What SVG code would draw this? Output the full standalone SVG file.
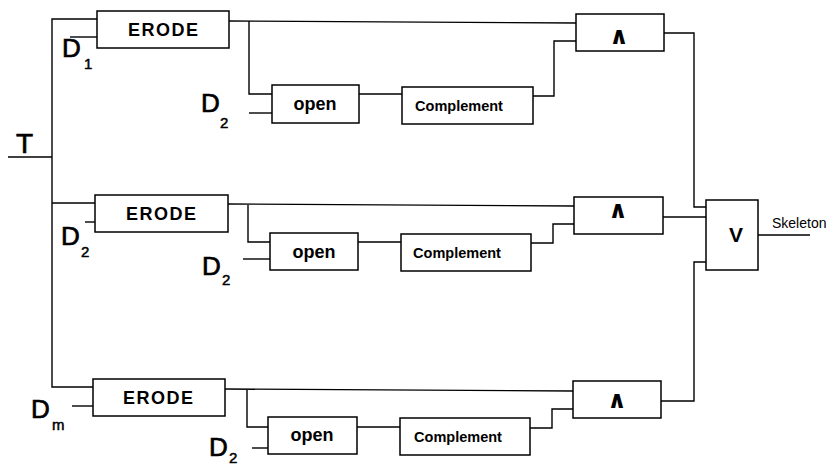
<svg xmlns="http://www.w3.org/2000/svg" width="833" height="467" viewBox="0 0 833 467">
<style>
.box{fill:#fff;stroke:#000;stroke-width:1.5}
.ln{fill:none;stroke:#000;stroke-width:1.4}
.t{font-family:"Liberation Sans",Arial,sans-serif;fill:#000}
.lbl{font-size:18px;font-weight:bold;text-anchor:middle}
.cmp{font-size:14.5px;font-weight:bold;text-anchor:middle}
.and{font-family:"DejaVu Sans",sans-serif;font-weight:bold;font-size:24px;text-anchor:middle;fill:#000}
.big{font-size:26px;stroke:#000;stroke-width:0.7}
.sub{font-size:15px;stroke:#000;stroke-width:0.5}
</style>
<rect width="833" height="467" fill="#fff"/>
<g id="connectors">
<path class="ln" d="M8,157 H52"/>
<path class="ln" d="M97,19 H52 V387 H93"/>
<path class="ln" d="M52,203 H95"/>
<path class="ln" d="M70,37 H97"/>
<path class="ln" d="M85,222 H95"/>
<path class="ln" d="M72,406 H93"/>
<path class="ln" d="M229,21 L576,23"/>
<path class="ln" d="M249,21 V94 H272"/>
<path class="ln" d="M249,113 H272"/>
<path class="ln" d="M359,94 H402"/>
<path class="ln" d="M533,96 H554 V41 H576"/>
<path class="ln" d="M664,33 H694 V207 H706"/>
<path class="ln" d="M228,204 L574,206"/>
<path class="ln" d="M248,205 V242 H270"/>
<path class="ln" d="M243,259 H270"/>
<path class="ln" d="M358,242 H401"/>
<path class="ln" d="M531,243 H553 V224 H574"/>
<path class="ln" d="M663,217 H706"/>
<path class="ln" d="M758,235 H810"/>
<path class="ln" d="M225,389 L573,391"/>
<path class="ln" d="M247,390 V427 H268"/>
<path class="ln" d="M252,448 H268"/>
<path class="ln" d="M357,427 H400"/>
<path class="ln" d="M530,428 H552 V409 H573"/>
<path class="ln" d="M661,401 H694 V262 H706"/>
</g>
<g id="labels">
<text class="t" x="16" y="153" font-size="28" stroke="#000" stroke-width="0.7">T</text>
<text class="t big" x="62" y="57">D</text><text class="t sub" x="84" y="69">1</text>
<text class="t big" x="201" y="112">D</text><text class="t sub" x="220" y="128">2</text>
<text class="t big" x="61" y="245">D</text><text class="t sub" x="81" y="257">2</text>
<text class="t big" x="202" y="275">D</text><text class="t sub" x="222" y="285">2</text>
<text class="t big" x="31" y="418">D</text><text class="t sub" x="52" y="430">m</text>
<text class="t big" x="209" y="456">D</text><text class="t sub" x="229" y="463" font-size="13">2</text>
<text class="t" x="772" y="228" font-size="14">Skeleton</text>
</g>
<g id="erode1"><rect class="box" x="97" y="11" width="132" height="37"/><text class="t lbl" x="163" y="36" textLength="70">ERODE</text></g>
<g id="open1"><rect class="box" x="272" y="85" width="87" height="38"/><text class="t lbl" x="315" y="110">open</text></g>
<g id="comp1"><rect class="box" x="402" y="87" width="131" height="37"/><text class="t cmp" x="459" y="111">Complement</text></g>
<g id="and1"><rect class="box" x="576" y="14" width="88" height="37"/><text class="and" x="619" y="44">∧</text></g>
<g id="erode2"><rect class="box" x="95" y="195" width="133" height="37"/><text class="t lbl" x="161" y="220" textLength="70">ERODE</text></g>
<g id="open2"><rect class="box" x="270" y="233" width="88" height="37"/><text class="t lbl" x="314" y="258">open</text></g>
<g id="comp2"><rect class="box" x="401" y="234" width="130" height="37"/><text class="t cmp" x="457" y="258">Complement</text></g>
<g id="and2"><rect class="box" x="574" y="197" width="89" height="37"/><text class="and" x="618" y="218">∧</text></g>
<g id="or"><rect class="box" x="706" y="200" width="52" height="70"/><text class="t" x="736" y="242" font-size="21" font-weight="bold" text-anchor="middle">V</text></g>
<g id="erode3"><rect class="box" x="93" y="379" width="132" height="37"/><text class="t lbl" x="158" y="404" textLength="70">ERODE</text></g>
<g id="open3"><rect class="box" x="268" y="417" width="89" height="37"/><text class="t lbl" x="312" y="441">open</text></g>
<g id="comp3"><rect class="box" x="400" y="418" width="130" height="37"/><text class="t cmp" x="458" y="442">Complement</text></g>
<g id="and3"><rect class="box" x="573" y="381" width="88" height="37"/><text class="and" x="617" y="408">∧</text></g>
</svg>
